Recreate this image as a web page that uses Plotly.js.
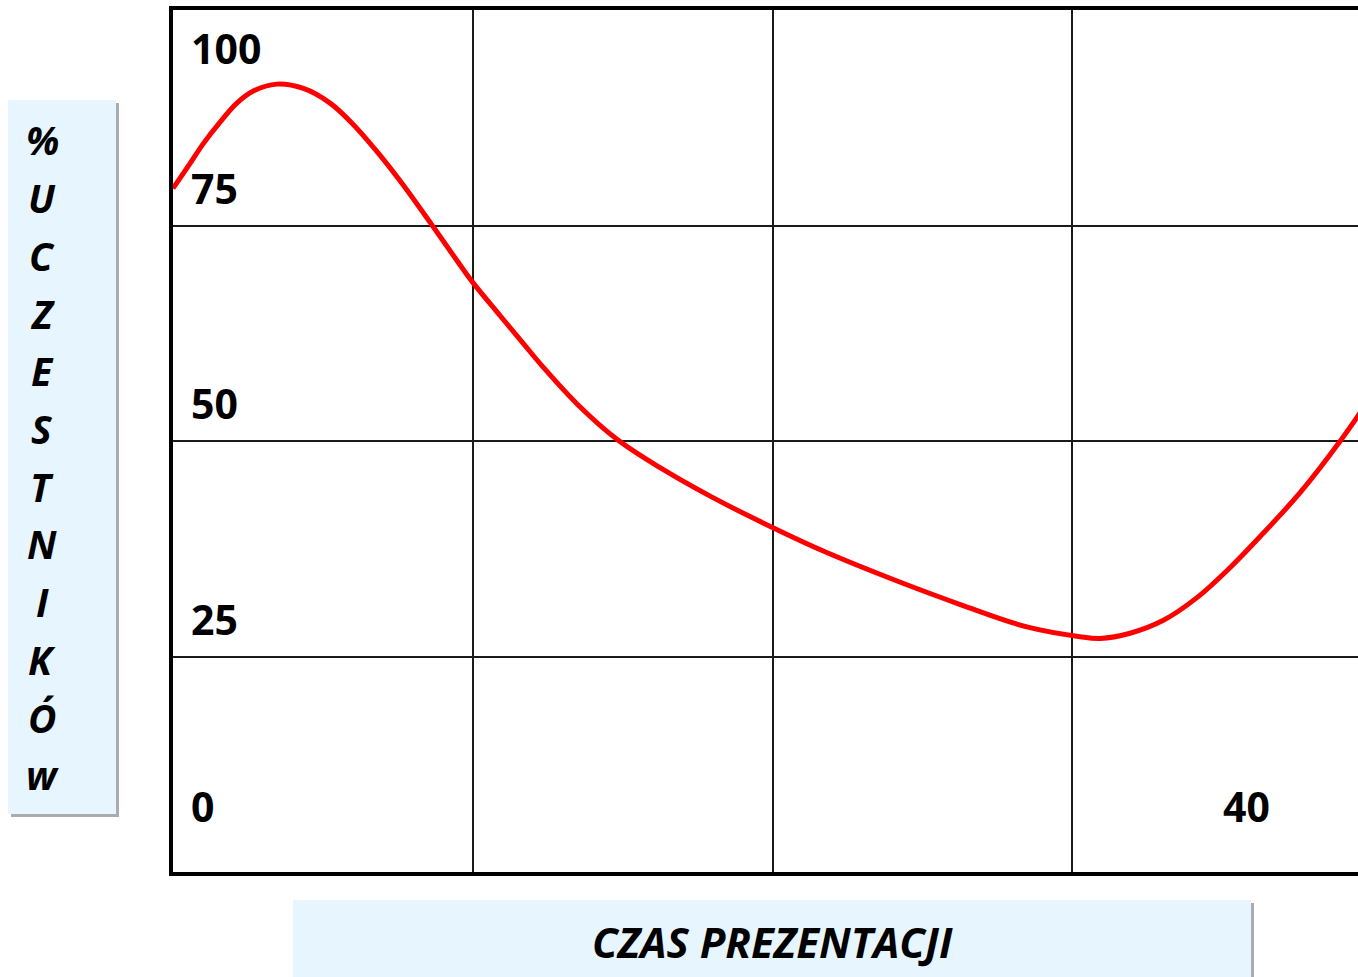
<!DOCTYPE html>
<html>
<head>
<meta charset="utf-8">
<script src="https://cdn.plot.ly/plotly-3.0.1.min.js"></script>
<style>
  html, body { margin: 0; padding: 0; overflow: hidden; background: #ffffff; }
  #chart { width: 1400px; height: 977px; }
</style>
</head>
<body>
<div id="chart"></div>
<script>
// ---- data ----
const timeMinutes = [0, 0.57, 1.01, 1.57, 2.13, 2.68, 3.46, 4.35, 5.24, 6.02, 6.80, 7.68, 8.63, 9.46, 10.0, 10.85, 11.69, 12.34, 13.48, 14.81, 16.25, 17.92, 19.98, 21.85, 24.05, 26.29, 28.52, 30.26, 30.93, 31.93, 33.04, 34.15, 35.26, 36.37, 37.6, 38.94, 40];
const attentionPct = [79.3, 82.2, 84.5, 87.0, 89.2, 90.6, 91.4, 90.9, 89.2, 86.7, 83.6, 79.7, 75.1, 71.0, 68.4, 64.8, 61.3, 58.6, 54.3, 50.2, 46.9, 43.6, 40.0, 37.0, 33.9, 31.0, 28.4, 27.3, 27.1, 27.7, 29.2, 31.8, 35.3, 39.3, 44.0, 50.0, 55.3];
const yTickValues = [0, 25, 50, 75, 100];
const yTickLabels = ['0', '25', '50', '75', '100'];
const xEndValue = 40;
const xEndLabel = '40';
const yTitleLetters = ['%', 'U', 'C', 'Z', 'E', 'S', 'T', 'N', 'I', 'K', 'Ó', 'w'];
const xTitleText = 'CZAS PREZENTACJI';

// ---- geometry helpers (pixel -> paper) ----
const L = 173, T = 10, PW = 1199, PH = 862;
const px = v => (v - L) / PW;
const py = v => (T + PH - v) / PH;

const numFont = { family: 'Open Sans, sans-serif', size: 41, color: '#000000', weight: 'bold' };
const letterFont = { family: 'Open Sans, sans-serif', size: 39, color: '#000000', weight: 'bold', style: 'italic' };
const xTitleFont = { family: 'Open Sans, sans-serif', size: 42, color: '#000000', weight: 'bold', style: 'italic' };

// per-label vertical offsets (styling)
const labelYShift = { '0': 66, '25': 38, '50': 38, '75': 38, '100': -38 };

const annotations = [];
yTickValues.forEach((v, i) => {
  annotations.push({
    x: 0, y: v, xref: 'x', yref: 'y', text: yTickLabels[i], showarrow: false,
    xanchor: 'left', yanchor: 'middle', xshift: 16, yshift: labelYShift[yTickLabels[i]],
    font: numFont
  });
});
annotations.push({
  x: xEndValue, y: 0, xref: 'x', yref: 'y', text: xEndLabel, showarrow: false,
  xanchor: 'center', yanchor: 'middle', xshift: -126, yshift: 66, font: numFont
});
yTitleLetters.forEach((ch, i) => {
  annotations.push({
    x: px(42), y: py(140 + i * 57.7), xref: 'paper', yref: 'paper', text: ch, showarrow: false,
    xanchor: 'center', yanchor: 'middle', font: letterFont
  });
});
annotations.push({
  x: px(772), y: py(941), xref: 'paper', yref: 'paper', text: xTitleText, showarrow: false,
  xanchor: 'center', yanchor: 'middle', font: xTitleFont
});

const boxFill = '#e7f6fe';
const shadow = '#a9adb0';
const shapes = [
  { type: 'rect', xref: 'paper', yref: 'paper', x0: px(11), x1: px(119), y0: py(817), y1: py(103), fillcolor: shadow, line: { width: 0 }, layer: 'below' },
  { type: 'rect', xref: 'paper', yref: 'paper', x0: px(8), x1: px(116), y0: py(814), y1: py(100), fillcolor: boxFill, line: { width: 0 }, layer: 'below' },
  { type: 'rect', xref: 'paper', yref: 'paper', x0: px(296), x1: px(1254), y0: py(990), y1: py(903), fillcolor: shadow, line: { width: 0 }, layer: 'below' },
  { type: 'rect', xref: 'paper', yref: 'paper', x0: px(293), x1: px(1251), y0: py(990), y1: py(900), fillcolor: boxFill, line: { width: 0 }, layer: 'below' }
];

const trace = {
  x: timeMinutes, y: attentionPct, type: 'scatter', mode: 'lines',
  line: { color: '#ff0000', width: 5, shape: 'spline', smoothing: 1 },
  hoverinfo: 'skip'
};

const layout = {
  width: 1400, height: 977,
  margin: { l: L, r: 1400 - L - PW, t: T, b: 977 - T - PH, pad: 0 },
  paper_bgcolor: '#ffffff', plot_bgcolor: '#ffffff',
  showlegend: false,
  xaxis: {
    range: [0, 40], dtick: 10, tick0: 0, showgrid: true, gridcolor: '#1a1a1a', gridwidth: 2,
    zeroline: false, showticklabels: false, ticks: '',
    showline: true, linecolor: '#000000', linewidth: 4, mirror: true, fixedrange: true
  },
  yaxis: {
    range: [0, 100], dtick: 25, tick0: 0, showgrid: true, gridcolor: '#1a1a1a', gridwidth: 2,
    zeroline: false, showticklabels: false, ticks: '',
    showline: true, linecolor: '#000000', linewidth: 4, mirror: true, fixedrange: true
  },
  annotations: annotations,
  shapes: shapes
};

Plotly.newPlot('chart', [trace], layout, { displayModeBar: false, staticPlot: true });
</script>
</body>
</html>
